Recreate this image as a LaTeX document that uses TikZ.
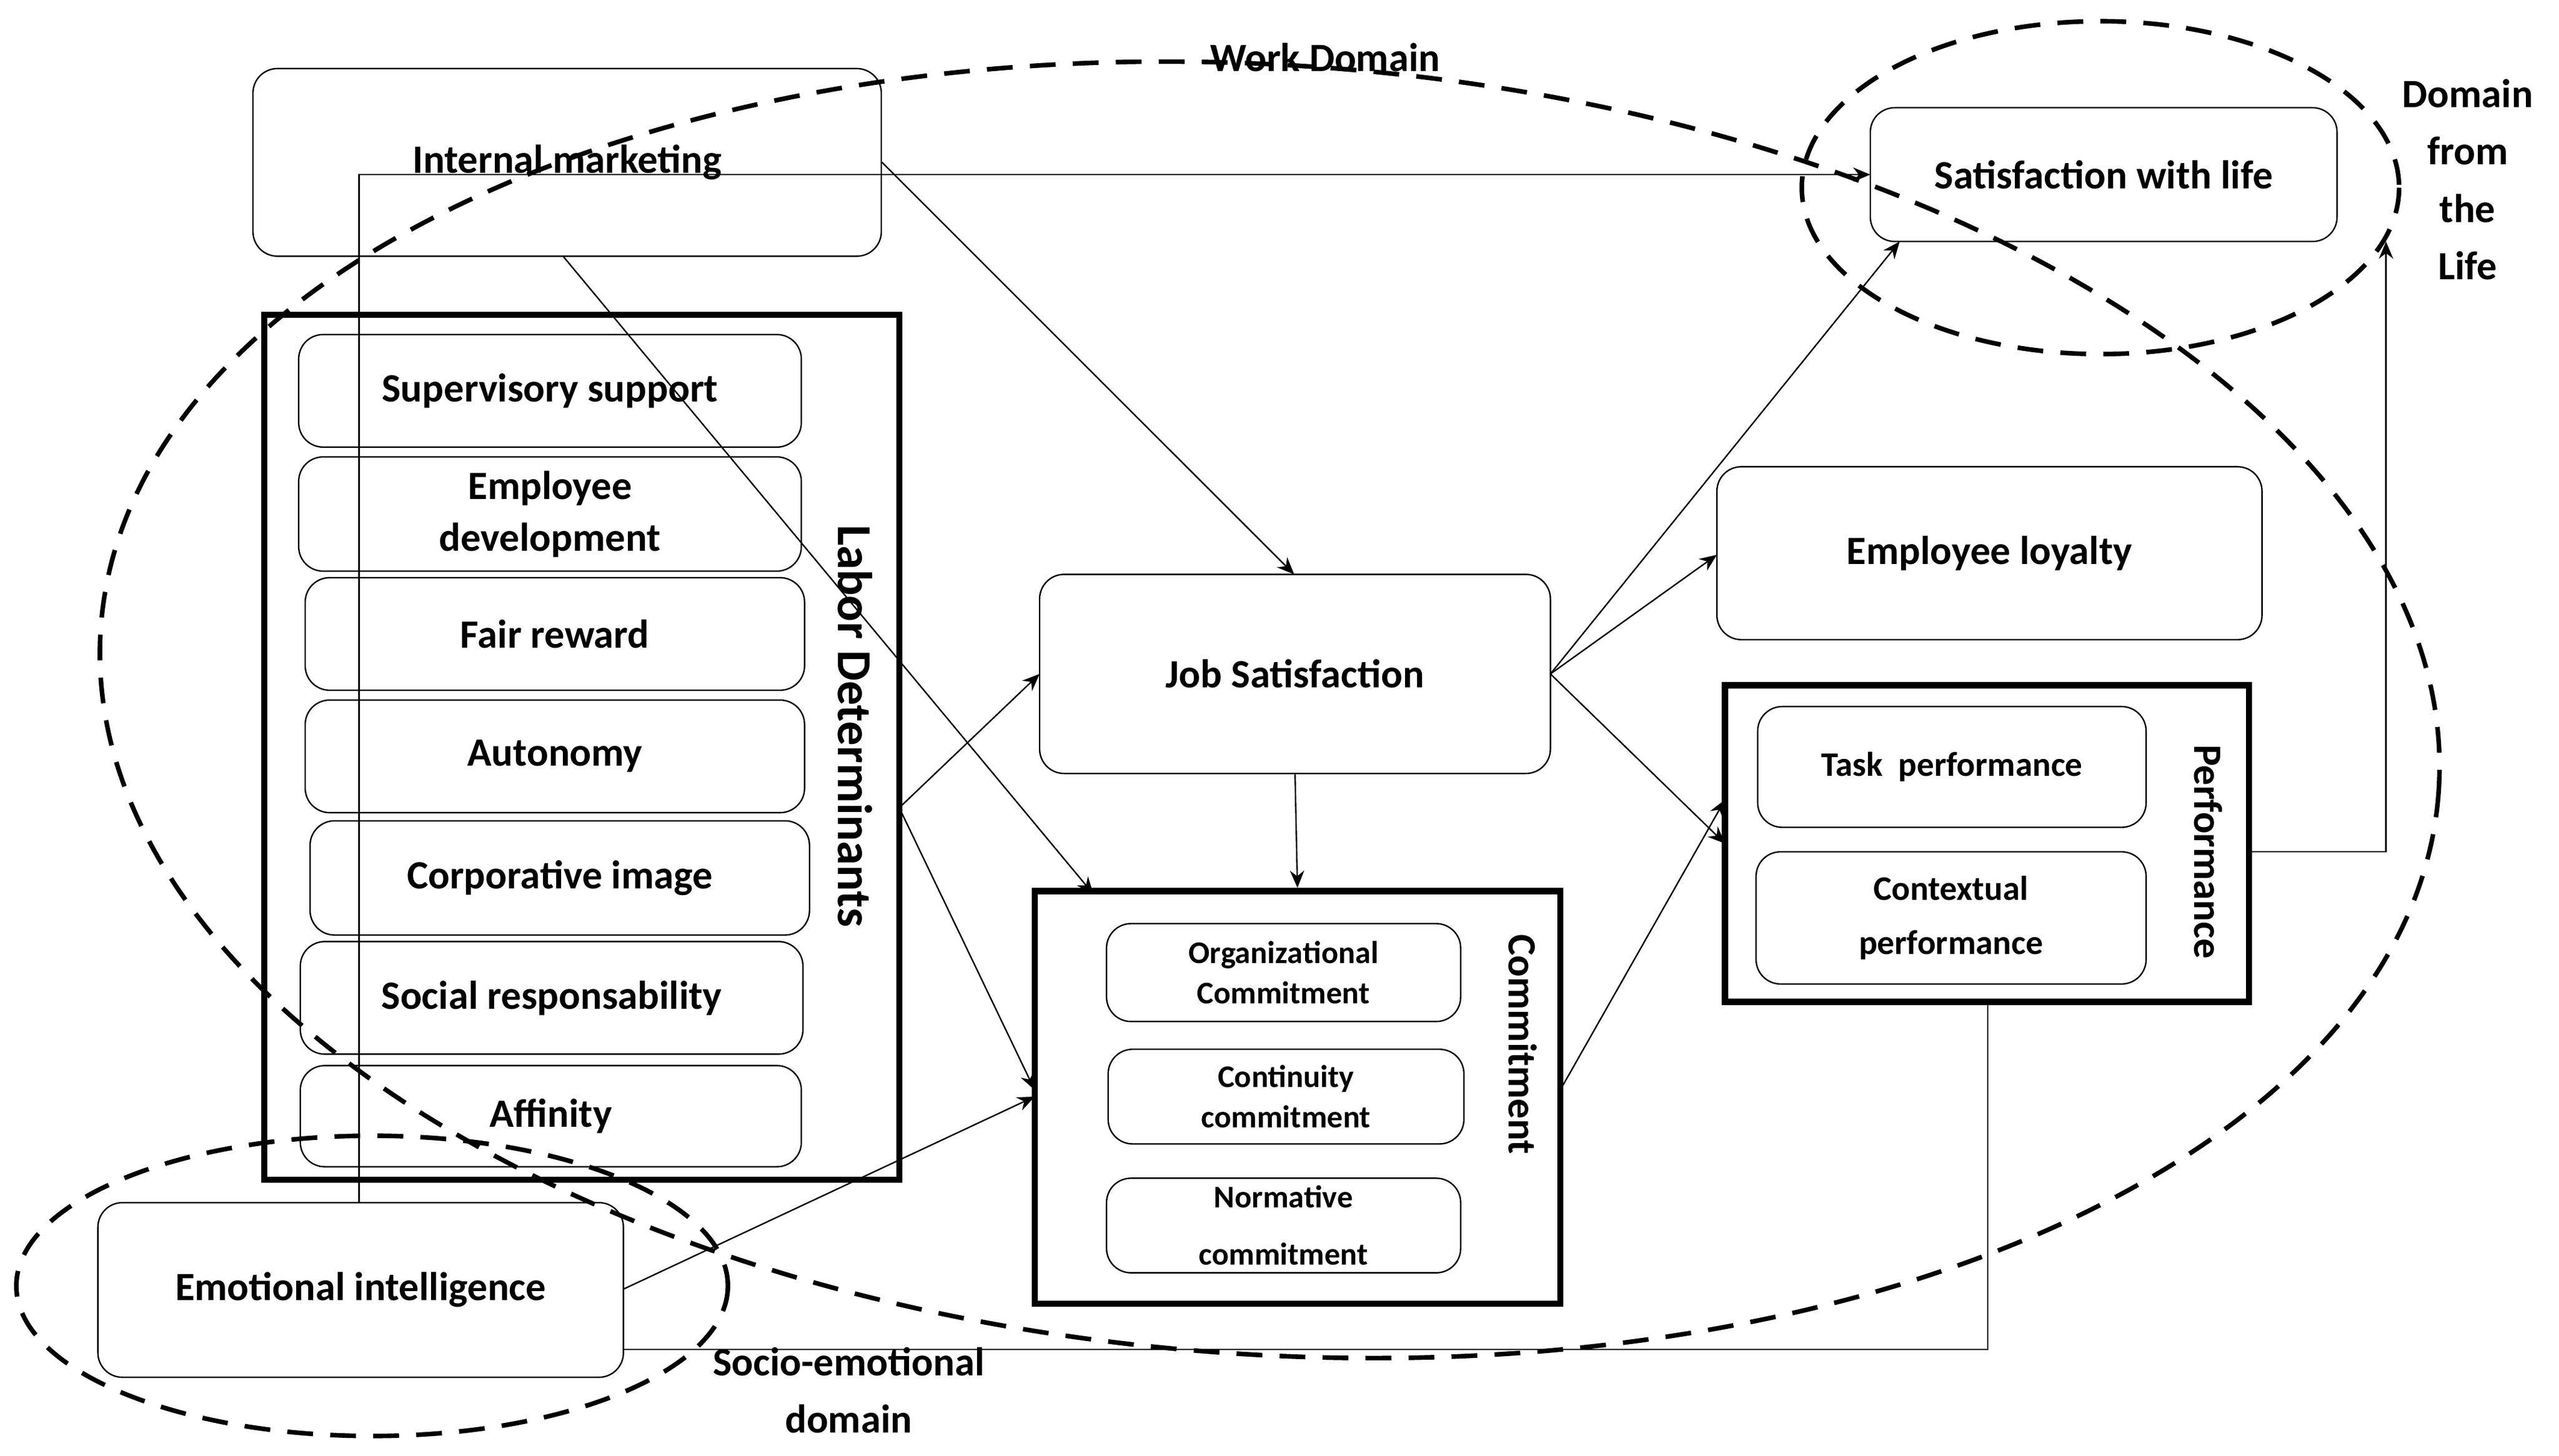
\documentclass[tikz,border=0pt]{standalone}
\usepackage{fontspec}
\setmainfont{Carlito}
\usetikzlibrary{arrows.meta}
\newcommand{\bx}[7][]{\node[box,#1,minimum width={(#4-#2)*0.02cm},minimum height={(#5-#3)*0.02cm}] (#7) at ({(#2+#4)/2},{(#3+#5)/2}) {#6};}
\begin{document}
\begin{tikzpicture}[x=0.02cm,y=-0.02cm,
 box/.style={draw,rounded corners=0.3cm,inner sep=2pt,align=center,font=\bfseries\fontsize{14}{18}\selectfont,line width=0.5pt},
 thick box/.style={draw,line width=2.2pt,inner sep=0pt},
 small/.style={font=\bfseries\fontsize{11}{14}\selectfont},
 arr/.style={-{Stealth[length=6pt,width=5pt]},line width=0.5pt},
 dom/.style={dashed,line width=1.6pt,dash pattern=on 9pt off 6pt},
 lab/.style={font=\bfseries\fontsize{14}{17}\selectfont,align=center}]
\useasboundingbox (0,0) rectangle (1568,892);
% thick boxes
\bx[thick box,rounded corners=0]{162}{193}{551}{723}{}{LD}
\bx[thick box,rounded corners=0]{1057}{420}{1378}{614}{}{PF}
\bx[thick box,rounded corners=0]{634}{546}{956}{799}{}{CM}
\node[lab,rotate=-90,font=\bfseries\fontsize{17}{20}\selectfont] at (524,445) {Labor Determinants};
\node[lab,rotate=-90] at (1353,522) {Performance};
\node[lab,rotate=-90] at (933,640) {Commitment};
% boxes
\bx{155}{42}{540}{157}{Internal marketing}{IM}
\bx{1146}{66}{1432}{148}{Satisfaction with life}{SL}
\bx{183}{205}{491}{274}{Supervisory support}{SS}
\bx{183}{280}{491}{350}{Employee\\development}{ED}
\bx{187}{354}{493}{423}{Fair reward}{FR}
\bx{187}{429}{493}{498}{Autonomy}{AU}
\bx{190}{503}{496}{573}{Corporative image}{CI}
\bx{184}{577}{492}{646}{Social responsability}{SR}
\bx{184}{653}{491}{715}{Affinity}{AF}
\bx{637}{352}{950}{474}{Job Satisfaction}{JS}
\bx{1052}{286}{1386}{392}{Employee loyalty}{EL}
\bx[font=\bfseries\fontsize{12}{16}\selectfont]{1077}{433}{1315}{507}{Task\ \ performance}{TP}
\bx[font=\bfseries\fontsize{12}{19}\selectfont]{1076}{522}{1315}{603}{Contextual\\performance}{CP}
\bx[small]{678}{566}{895}{626}{Organizational\\Commitment}{OC}
\bx[small]{679}{643}{897}{701}{Continuity\\commitment}{CC}
\bx[small,font=\bfseries\fontsize{11}{20}\selectfont]{678}{722}{895}{780}{Normative\\commitment}{NC}
\bx{60}{737}{382}{844}{Emotional intelligence}{EI}
% coordinates
\coordinate (c1) at (220,737);
\coordinate (c2) at (220,107);
\coordinate (c3) at (1146,107);
\coordinate (p1) at (1378,522);
\coordinate (p2) at (1462,522);
\coordinate (p3) at (1462,148);
\coordinate (q1) at (1218,614);
\coordinate (q2) at (1218,827);
\coordinate (q3) at (382,827);
% connectors
\draw[arr] (c1) -- (c2) -- (c3);
\draw[arr] (IM.east) ++(0,0) coordinate (ie) (ie) -- (793,352);
\draw[arr] (345,157) -- (670,548);
\draw[arr] (551,495) -- (637,413);
\draw[arr] (551,495) -- (634,668);
\draw[arr] (382,790) -- (634,672);
\draw[arr] (JS.south) -- (CM.north);
\draw[arr] (950,413) -- (1164,148);
\draw[arr] (950,413) -- (1052,340);
\draw[arr] (950,413) -- (1057,517);
\draw[arr] (956,668) -- (1057,490);
\draw[arr] (p1) -- (p2) -- (p3);
\draw[line width=0.5pt] (q1) -- (q2) -- (q3);
% domains
\draw[dom] (778,435) ellipse[x radius=718,y radius=395,rotate=-4];
\draw[dom] (1287,115) ellipse[x radius=183,y radius=102];
\draw[dom] (228,788) ellipse[x radius=218,y radius=92];
\node[lab] (wd) at (812,35) {Work Domain};
\node[lab,font=\bfseries\fontsize{14}{20}\selectfont] (dl) at (1512,110) {Domain\\from\\the\\Life};
\node[lab,font=\bfseries\fontsize{14}{20}\selectfont] (se) at (520,852) {Socio-emotional\\domain};
\end{tikzpicture}
\end{document}
